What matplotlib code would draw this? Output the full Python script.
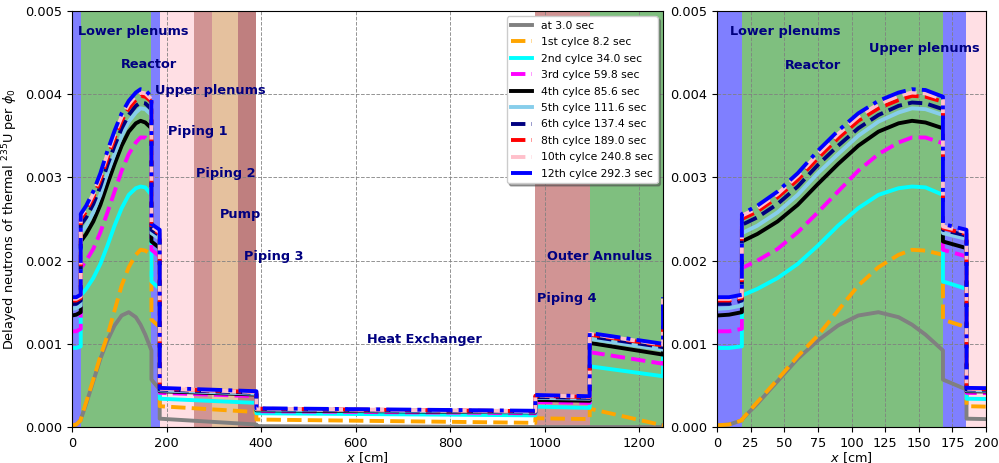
import matplotlib
matplotlib.use("Agg")
import matplotlib.pyplot as plt

plt.rcParams['font.size'] = 9.3

# positions along the loop [cm]
x_cm = [0, 9, 18.5, 18.5, 30, 45, 60, 75, 90, 105, 120, 135, 145, 155, 168,
        168, 185.5, 185.5, 390, 390, 980, 980, 1095, 1095, 1250, 1250]

# delayed neutron precursors
gray_3s = [0.00002, 0.00003, 0.00008,
           0.00009, 0.00028, 0.00055, 0.00082, 0.00104, 0.00122, 0.00134, 0.00138, 0.00132, 0.00123, 0.00111, 0.00092,
           0.00057, 0.00045, 0.00010, 0.00003, 0.00001, 0.0, 0.0, 0.0, 0.0, 0.0, 0.00002]
orange_c1 = [0.00002, 0.00003, 0.00008,
             0.00009, 0.00030, 0.00057, 0.00085, 0.00110, 0.00140, 0.00170, 0.00192, 0.00207, 0.00213, 0.00212, 0.00207,
             0.00129, 0.00120, 0.00025, 0.00018, 0.00009, 0.00005, 0.000105, 0.000095, 0.00022, 0.00002, 0.00002]
cyan_c2 = [0.00095, 0.00095, 0.00097,
           0.00158, 0.00166, 0.00179, 0.00196, 0.00218, 0.00242, 0.00263, 0.00279, 0.00287, 0.00289, 0.00288, 0.00279,
           0.00175, 0.00166, 0.00034, 0.00029, 0.000165, 0.00014, 0.000245, 0.00023, 0.00073, 0.00061, 0.00095]
magenta_c3 = [0.00115, 0.00115, 0.00118,
              0.00191, 0.00200, 0.00214, 0.00234, 0.00258, 0.00283, 0.00308, 0.00328, 0.00342, 0.00348, 0.00348, 0.00341,
              0.00213, 0.00205, 0.00041, 0.00037, 0.00019, 0.000165, 0.00030, 0.00029, 0.00090, 0.00076, 0.00115]
black_c4 = [0.00134, 0.00135, 0.00138,
            0.00223, 0.00232, 0.00247, 0.00267, 0.00292, 0.00316, 0.00338, 0.00355, 0.00365, 0.00368, 0.00366, 0.00359,
            0.00223, 0.00215, 0.00043, 0.00039, 0.00020, 0.000175, 0.000325, 0.000315, 0.00101, 0.00087, 0.00134]
sky_c5 = [0.00142, 0.00143, 0.00146,
          0.00233, 0.00242, 0.00258, 0.00279, 0.00305, 0.00328, 0.00350, 0.00367, 0.00378, 0.00383, 0.00382, 0.00375,
          0.00233, 0.00226, 0.00044, 0.00040, 0.00021, 0.00018, 0.00035, 0.00034, 0.00106, 0.00093, 0.00142]
navy_c6 = [0.00148, 0.00148, 0.00152,
           0.00243, 0.00252, 0.00268, 0.00289, 0.00315, 0.00338, 0.00359, 0.00375, 0.00386, 0.00390, 0.00389, 0.00382,
           0.00237, 0.00230, 0.00045, 0.00041, 0.000215, 0.000185, 0.00036, 0.00035, 0.00109, 0.00096, 0.00148]
red_c8 = [0.00152, 0.00152, 0.00155,
          0.00250, 0.00259, 0.00276, 0.00297, 0.00323, 0.00347, 0.00368, 0.00383, 0.00393, 0.00398, 0.00397, 0.00391,
          0.00239, 0.00232, 0.00046, 0.00042, 0.00022, 0.00019, 0.000375, 0.00036, 0.00111, 0.00098, 0.00152]
pink_c10 = [0.00154, 0.00154, 0.00157,
            0.00254, 0.00263, 0.00280, 0.00302, 0.00328, 0.00352, 0.00373, 0.00388, 0.00398, 0.00402, 0.00401, 0.00394,
            0.00241, 0.00234, 0.00046, 0.00042, 0.00022, 0.00019, 0.00038, 0.000365, 0.00112, 0.00099, 0.00154]
blue_c12 = [0.00156, 0.00156, 0.00159,
            0.00256, 0.00266, 0.00283, 0.00305, 0.00332, 0.00356, 0.00377, 0.00392, 0.00402, 0.00406, 0.00405, 0.00397,
            0.00244, 0.00237, 0.00047, 0.00043, 0.000225, 0.000195, 0.000385, 0.00037, 0.00113, 0.00100, 0.00156]

labels = ['at 3.0 sec', '1st cylce 8.2 sec', '2nd cylce 34.0 sec', '3rd cylce 59.8 sec',
          '4th cylce 85.6 sec', '5th cylce 111.6 sec', '6th cylce 137.4 sec',
          '8th cylce 189.0 sec', '10th cylce 240.8 sec', '12th cylce 292.3 sec']
series = [gray_3s, orange_c1, cyan_c2, magenta_c3, black_c4, sky_c5, navy_c6, red_c8, pink_c10, blue_c12]
colors = ['gray', 'orange', 'cyan', 'magenta', 'black', 'skyblue', 'navy', 'red', 'pink', 'blue']
styles = ['-', '--', '-', '--', '-', '-', '--', '--', '--', '-.']

# loop sections: (start, end, colour)
sections = [(0, 18.5, 'blue'), (18.5, 168, 'green'), (168, 185.5, 'blue'),
            (185.5, 258, 'pink'), (258, 296, 'brown'), (296, 352, 'peru'),
            (352, 390, 'maroon'), (390, 980, 'white'), (980, 1095, 'brown'),
            (1095, 1250, 'green')]

fig = plt.figure(figsize=(9.99, 4.63), dpi=100)
ax1 = fig.add_axes([72/999, 36/463, 591/999, 416/463])
ax2 = fig.add_axes([717/999, 36/463, 269/999, 416/463])

for ax in (ax1, ax2):
    for s, e, c in sections:
        ax.axvspan(s, e, color=c, alpha=0.5, lw=0)
    for y, lab, c, ls in zip(series, labels, colors, styles):
        ax.plot(x_cm, y, color=c, linestyle=ls, linewidth=2.8, label=lab)
    ax.set_ylim(0, 0.005)
    ax.set_xlabel('$x$ [cm]', labelpad=0)
    ax.grid(True, linestyle='--', color='gray', linewidth=0.7, alpha=0.85)

ax1.set_xlim(0, 1250)
ax1.set_ylabel('Delayed neutrons of thermal $^{235}$U per $\\phi_0$')
ax2.set_xlim(0, 200)
ax2.set_xticks(range(0, 201, 25))

txt = dict(color='navy', fontweight='bold', ha='left', va='center', fontsize=9.3)
ax1.text(12, 0.00475, 'Lower plenums', **txt)
ax1.text(103, 0.00436, 'Reactor', **txt)
ax1.text(176, 0.00405, 'Upper plenums', **txt)
ax1.text(202, 0.00355, 'Piping 1', **txt)
ax1.text(263, 0.00305, 'Piping 2', **txt)
ax1.text(313, 0.00255, 'Pump', **txt)
ax1.text(363, 0.00205, 'Piping 3', **txt)
ax1.text(624, 0.00105, 'Heat Exchanger', **txt)
ax1.text(984, 0.00155, 'Piping 4', **txt)
ax1.text(1004, 0.00205, 'Outer Annulus', **txt)

ax2.text(10, 0.00475, 'Lower plenums', **txt)
ax2.text(50.5, 0.00435, 'Reactor', **txt)
ax2.text(113, 0.00455, 'Upper plenums', **txt)

ax1.legend(loc='upper right', shadow=True, fontsize='small', labelspacing=0.6)

fig.savefig('out.png', dpi=100)
